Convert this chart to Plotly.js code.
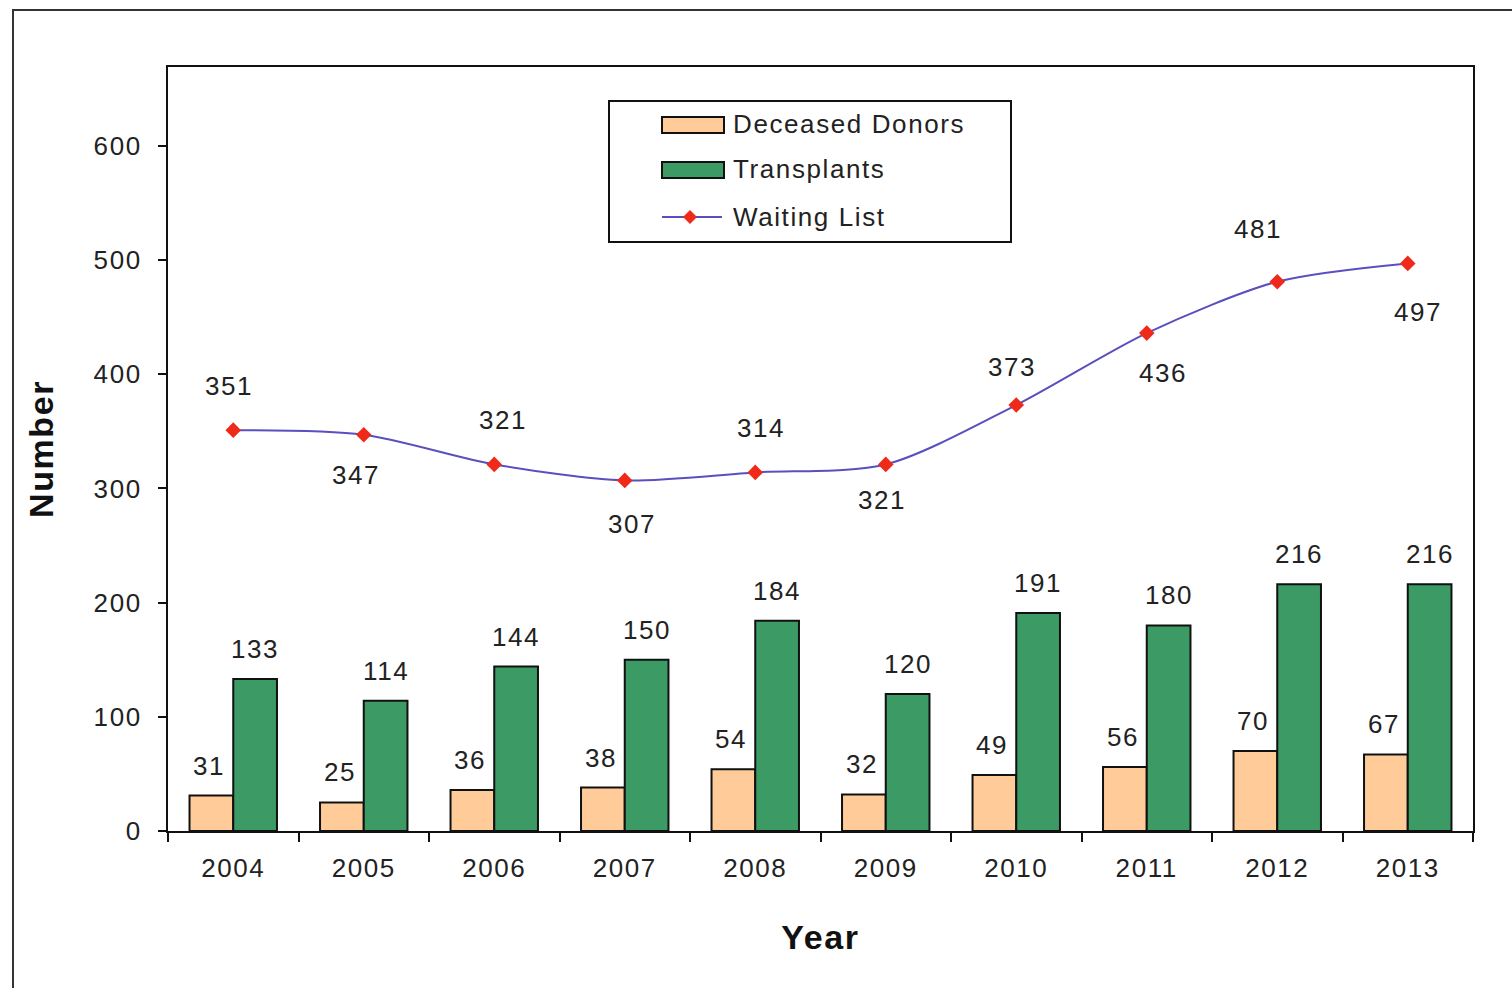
<!DOCTYPE html>
<html>
<head>
<meta charset="utf-8">
<script src="https://cdn.plot.ly/plotly-3.0.1.min.js"></script>
<style>
  html, body { margin: 0; padding: 0; background: #fff; overflow: hidden; }
  #frame { position: absolute; left: 12px; top: 9px; width: 1540px; height: 1020px; border: 2px solid #333; box-sizing: border-box; }
  #chart { position: absolute; left: 0; top: 0; width: 1512px; height: 988px; }
  svg text { letter-spacing: 1.6px; }
</style>
</head>
<body>
<div id="frame"></div>
<div id="chart"></div>
<script>
// ---- Data ----
const years = ['2004','2005','2006','2007','2008','2009','2010','2011','2012','2013'];
const deceasedDonors = [31, 25, 36, 38, 54, 32, 49, 56, 70, 67];
const transplants = [133, 114, 144, 150, 184, 120, 191, 180, 216, 216];
const waitingList = [351, 347, 321, 307, 314, 321, 373, 436, 481, 497];
const seriesNames = ['Deceased Donors', 'Transplants', 'Waiting List'];

// ---- Styles ----
const FONT = 'Liberation Sans, Arial, sans-serif';
const TXT = '#222222';
const PEACH = '#FFCC99';
const GREEN = '#3C9A64';
const LINEC = '#5A4FBF';
const MARK = '#F02A1A';
// label offsets (px) for waiting-list labels [dx, dy]
const wlOffsets = [[-4,44],[-8,-40],[9,44],[7,-44],[6,44],[-4,-36],[-4,38],[16,-40],[-19,53],[10,-49]];

// plot area in pixels
const L = 168, R = 1473, T = 67, B = 831;
const W = 1512, H = 988;
const px = x => (x - L) / (R - L);
const py = y => (B - y) / (B - T);

const traces = [
  { type: 'bar', name: seriesNames[0], x: years, y: deceasedDonors,
    marker: { color: PEACH, line: { color: '#111', width: 2 } }, showlegend: false, hoverinfo: 'skip' },
  { type: 'bar', name: seriesNames[1], x: years, y: transplants,
    marker: { color: GREEN, line: { color: '#111', width: 2 } }, showlegend: false, hoverinfo: 'skip' },
  { type: 'scatter', mode: 'lines+markers', name: seriesNames[2], x: years, y: waitingList,
    line: { color: LINEC, width: 2, shape: 'spline', smoothing: 0.8 },
    marker: { symbol: 'diamond', size: 12, color: MARK, line: { width: 0 } },
    showlegend: false, hoverinfo: 'skip' }
];

const annotations = [];
const BAR_SHIFT = 22;
years.forEach((yr, i) => {
  annotations.push({ x: i, y: deceasedDonors[i], xref: 'x', yref: 'y', text: String(deceasedDonors[i]),
    showarrow: false, xshift: -BAR_SHIFT - 2, yshift: 30, yanchor: 'middle', font: { family: FONT, size: 26, color: TXT } });
  annotations.push({ x: i, y: transplants[i], xref: 'x', yref: 'y', text: String(transplants[i]),
    showarrow: false, xshift: BAR_SHIFT, yshift: 30, yanchor: 'middle', font: { family: FONT, size: 26, color: TXT } });
  annotations.push({ x: i, y: waitingList[i], xref: 'x', yref: 'y', text: String(waitingList[i]),
    showarrow: false, xshift: wlOffsets[i][0], yshift: wlOffsets[i][1], yanchor: 'middle', font: { family: FONT, size: 26, color: TXT } });
});

// custom legend
const legendItems = [
  { text: seriesNames[0], y: 124 },
  { text: seriesNames[1], y: 169 },
  { text: seriesNames[2], y: 217 }
];
legendItems.forEach(it => {
  annotations.push({ xref: 'paper', yref: 'paper', x: px(731), y: py(it.y), xanchor: 'left', yanchor: 'middle',
    text: it.text, showarrow: false, font: { family: FONT, size: 26, color: TXT } });
});

const shapes = [
  { type: 'rect', xref: 'paper', yref: 'paper', x0: px(609), x1: px(1011), y0: py(242), y1: py(101),
    line: { color: '#111', width: 2 }, fillcolor: '#fff', layer: 'above' },
  { type: 'rect', xref: 'paper', yref: 'paper', x0: px(662), x1: px(724), y0: py(133), y1: py(117),
    line: { color: '#111', width: 2 }, fillcolor: PEACH, layer: 'above' },
  { type: 'rect', xref: 'paper', yref: 'paper', x0: px(662), x1: px(724), y0: py(178), y1: py(162),
    line: { color: '#111', width: 2 }, fillcolor: GREEN, layer: 'above' },
  { type: 'line', xref: 'paper', yref: 'paper', x0: px(662), x1: px(722), y0: py(217), y1: py(217),
    line: { color: LINEC, width: 2 }, layer: 'above' },
  { type: 'path', xref: 'paper', yref: 'paper', layer: 'above',
    path: `M ${px(690)} ${py(210)} L ${px(697)} ${py(217)} L ${px(690)} ${py(224)} L ${px(683)} ${py(217)} Z`,
    fillcolor: MARK, line: { width: 0 } }
];

const layout = {
  width: W, height: H,
  margin: { l: L, r: W - R, t: T, b: H - B, pad: 0 },
  paper_bgcolor: 'rgba(0,0,0,0)', plot_bgcolor: '#fff',
  barmode: 'group', bargap: 0.33, bargroupgap: 0,
  showlegend: false,
  font: { family: FONT, size: 26, color: TXT },
  xaxis: {
    type: 'category', range: [-0.5, years.length - 0.5], autorange: false,
    tickson: 'boundaries', ticks: 'outside', ticklen: 9, tickwidth: 2, tickcolor: '#111', tickangle: 0,
    showline: true, linecolor: '#111', linewidth: 2, mirror: true, showgrid: false, zeroline: false,
    tickfont: { family: FONT, size: 26, color: TXT }, ticklabelstandoff: 13,
    title: { text: 'Year', font: { family: FONT, size: 34, color: '#111', weight: 'bold' }, standoff: 43 }
  },
  yaxis: {
    range: [0, 669], autorange: false, dtick: 100, tick0: 0, ticks: 'outside', ticklen: 8, tickwidth: 2, tickcolor: '#111',
    showline: true, linecolor: '#111', linewidth: 2, mirror: true, showgrid: false, zeroline: false,
    tickfont: { family: FONT, size: 26, color: TXT }, ticklabelstandoff: 11,
    title: { text: 'Number', font: { family: FONT, size: 34, color: '#111', weight: 'bold' }, standoff: 30 }
  },
  annotations: annotations,
  shapes: shapes
};

Plotly.newPlot('chart', traces, layout, { staticPlot: true, displayModeBar: false });
</script>
</body>
</html>
